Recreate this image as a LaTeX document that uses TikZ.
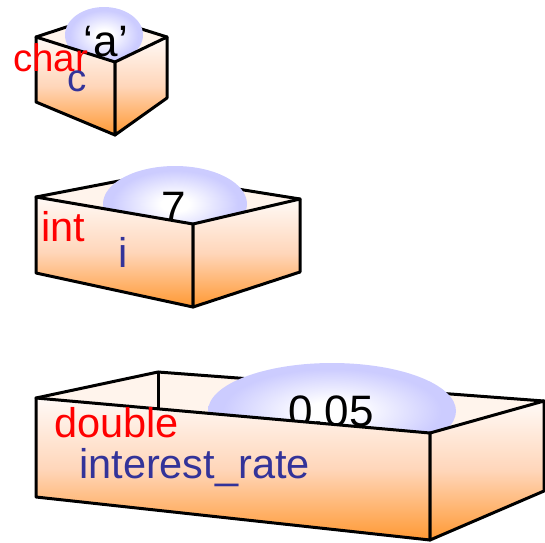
\documentclass[tikz,border=0pt]{standalone}
\usepackage{fontspec}
\setmainfont{Liberation Sans}
\definecolor{lav}{RGB}{204,204,255}
\definecolor{boxtop}{RGB}{255,250,247}
\definecolor{boxmid}{RGB}{255,214,186}
\definecolor{boxbot}{RGB}{255,153,51}
\definecolor{lidcol}{RGB}{255,244,236}
\definecolor{typered}{RGB}{255,0,0}
\definecolor{nameblue}{RGB}{51,51,153}
\pgfdeclareradialshading{domeshade}{\pgfpoint{0bp}{0bp}}{color(0bp)=(white); color(5bp)=(white); color(22bp)=(lav); color(25bp)=(lav); color(50bp)=(lav)}
\tikzset{
  edge/.style={line width=3pt, line join=round, line cap=round},
  face/.style={edge, draw=black, top color=boxtop, bottom color=boxbot, middle color=boxmid},
  lid/.style={fill=lidcol},
  dome/.style={shading=domeshade},
  valtext/.style={inner sep=0pt, anchor=base, font=\fontsize{44}{52}\selectfont},
  typelabel/.style={inner sep=0pt, anchor=base west, text=typered, font=\fontsize{41.5}{50}\selectfont},
  namelabel/.style={inner sep=0pt, anchor=base west, text=nameblue, font=\fontsize{41.5}{50}\selectfont},
}
\begin{document}
\begin{tikzpicture}[x=1pt,y=-1pt]
\useasboundingbox (0,0) rectangle (545,542);
% ---------- char box ----------
\coordinate (cL) at (36,37);
\coordinate (cB) at (100,16);
\coordinate (cR) at (167,37);
\coordinate (cF) at (115,62);
\coordinate (cLb) at (36,102);
\coordinate (cFb) at (115,135);
\coordinate (cRb) at (167,98);
\coordinate (cBb) at (100,81);
\coordinate (cD) at (104,35);
\fill[lid] (cL) -- (cB) -- (cR) -- (cF) -- cycle;
\draw[edge] (cL) -- (cB) -- (cR);
\draw[edge] (cB) -- (cBb);
\shade[dome] (cD) ellipse [x radius=39pt, y radius=28pt];
\node[valtext] (cval) at (106,56) {‘a’};
\draw[face] (cL) -- (cF) -- (cFb) -- (cLb) -- cycle;
\draw[face] (cF) -- (cR) -- (cRb) -- (cFb) -- cycle;
\node[typelabel, font=\fontsize{38.5}{46}\selectfont] (ctype) at (13,71) {char};
\node[namelabel, font=\fontsize{38.5}{46}\selectfont] (cname) at (67,91) {c};
% ---------- int box ----------
\coordinate (iL) at (36,197);
\coordinate (iB) at (150,175);
\coordinate (iR) at (300,199);
\coordinate (iF) at (193,224);
\coordinate (iLb) at (36,273);
\coordinate (iFb) at (193,307);
\coordinate (iRb) at (300,272);
\coordinate (iBb) at (150,251);
\coordinate (iD) at (175,204);
\fill[lid] (iL) -- (iB) -- (iR) -- (iF) -- cycle;
\draw[edge] (iL) -- (iB) -- (iR);
\draw[edge] (iB) -- (iBb);
\shade[dome] (iD) ellipse [x radius=72pt, y radius=38pt];
\node[valtext] (ival) at (174,222) {7};
\draw[face] (iL) -- (iF) -- (iFb) -- (iLb) -- cycle;
\draw[face] (iF) -- (iR) -- (iRb) -- (iFb) -- cycle;
\node[typelabel] (itype) at (41,241) {int};
\node[namelabel] (iname) at (118,267) {i};
% ---------- double box ----------
\coordinate (dL) at (36,398);
\coordinate (dB) at (158,372);
\coordinate (dR) at (544,401);
\coordinate (dF) at (430,433);
\coordinate (dLb) at (36,497);
\coordinate (dFb) at (430,540);
\coordinate (dRb) at (544,491);
\coordinate (dBb) at (158,471);
\coordinate (dD) at (332,411);
\fill[lid] (dL) -- (dB) -- (dR) -- (dF) -- cycle;
\draw[edge] (dL) -- (dB) -- (dR);
\draw[edge] (dB) -- (dBb);
\shade[dome] (dD) ellipse [x radius=124pt, y radius=48pt];
\node[valtext] (dval) at (331,426) {0.05};
\draw[face] (dL) -- (dF) -- (dFb) -- (dLb) -- cycle;
\draw[face] (dF) -- (dR) -- (dRb) -- (dFb) -- cycle;
\node[typelabel] (dtype) at (54,437) {double};
\node[namelabel] (dname) at (79,478) {interest\_rate};
\end{tikzpicture}
\end{document}
